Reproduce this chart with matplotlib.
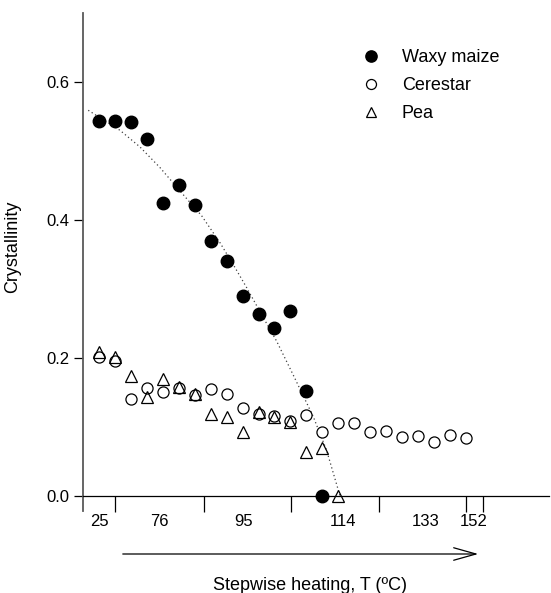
import numpy as np
import matplotlib
matplotlib.use('Agg')
from matplotlib import pyplot as plt

plt.rcParams['font.family'] = ['Liberation Sans', 'DejaVu Sans']

# heating step index of every measurement
steps_waxy = list(range(15))
steps_cerestar = list(range(24))
steps_pea = list(range(16))

waxy = [0.544, 0.544, 0.542, 0.518, 0.425, 0.450, 0.422, 0.369, 0.340,
        0.290, 0.264, 0.244, 0.268, 0.152, 0.0]
cerestar = [0.201, 0.195, 0.140, 0.157, 0.151, 0.157, 0.146, 0.155, 0.147,
            0.128, 0.118, 0.116, 0.109, 0.117, 0.092, 0.105, 0.106, 0.093,
            0.094, 0.086, 0.087, 0.078, 0.088, 0.084]
pea = [0.209, 0.202, 0.174, 0.143, 0.170, 0.158, 0.147, 0.118, 0.115,
       0.092, 0.121, 0.114, 0.107, 0.063, 0.070, 0.0]

# dotted trend through the waxy maize data
fit_x = [-0.69, 1.30, 2.55, 3.81, 5.07, 6.43, 7.58, 8.52, 9.25, 10.09,
         11.14, 12.18, 13.43, 14.27, 15.11]
fit_y = [0.559, 0.530, 0.506, 0.476, 0.442, 0.406, 0.367, 0.331, 0.302,
         0.267, 0.224, 0.175, 0.115, 0.066, 0.0]

temp_labels = ['25', '76', '95', '114', '133', '152']
temp_label_pos = [0, 3.77, 9.05, 15.3, 20.5, 23.5]
step_ticks = [1, 6.57, 12.03, 17.56, 23.02, 24.1]

fig = plt.figure(figsize=(5.51, 5.93), dpi=100)
ax = fig.add_axes([0.1506, 0.1383, 0.8458, 0.8397])

ax.plot(fit_x, fit_y, linestyle=(0, (1, 2.2)), color='0.25', lw=0.9)
ax.plot(steps_waxy, waxy, 'o', color='black', ms=9.0, ls='none',
        label='Waxy maize', clip_on=False, zorder=3)
ax.plot(steps_cerestar, cerestar, 'o', mfc='white', mec='black', mew=0.9,
        ms=8.0, ls='none', label='Cerestar', clip_on=False, zorder=3)
ax.plot(steps_pea, pea, '^', mfc='none', mec='black', mew=0.9,
        ms=8.5, ls='none', label='Pea', clip_on=False, zorder=4)

ax.set_xlim(-1.02, 28.23)
ax.set_ylim(-0.022, 0.70)

for s in ['top', 'right']:
    ax.spines[s].set_visible(False)
ax.spines['bottom'].set_position(('data', 0))
ax.spines['left'].set_color('0.35')
ax.spines['left'].set_linewidth(1.3)
ax.spines['bottom'].set_linewidth(0.9)

ax.set_yticks([0.0, 0.2, 0.4, 0.6])
ax.set_yticklabels(['0.0', '0.2', '0.4', '0.6'])
ax.tick_params(axis='y', length=6.5, width=0.9, labelsize=12, pad=3)

ax.set_xticks(step_ticks)
ax.set_xticklabels([''] * len(step_ticks))
ax.set_xticks(temp_label_pos, minor=True)
ax.set_xticklabels(temp_labels, minor=True)
ax.tick_params(axis='x', which='major', length=11.5, width=0.9)
ax.tick_params(axis='x', which='minor', length=0, labelsize=12, pad=13)
ax.xaxis.get_major_ticks()[-1].tick1line.set_color('0.6')

ax.set_ylabel('Crystallinity', fontsize=13)
ax.yaxis.set_label_coords(-0.133, 0.53)

fig.text(310 / 551, 1 - 585 / 593, 'Stepwise heating, T (ºC)',
         ha='center', va='center', fontsize=13)
fig.patches.append(matplotlib.patches.FancyArrowPatch(
    (120 / 551, 1 - 554 / 593), (481 / 551, 1 - 554 / 593),
    transform=fig.transFigure, arrowstyle='->,head_length=16,head_width=4.5',
    mutation_scale=1, lw=0.9, color='black'))

leg = ax.legend(loc='upper left', bbox_to_anchor=(362 / 551, 1 - 49 / 593),
                bbox_transform=fig.transFigure, frameon=False, fontsize=13,
                handlelength=1.0, handletextpad=1.2, labelspacing=0.62,
                borderpad=0, borderaxespad=0, markerscale=0.9)

plt.savefig('out.png', dpi=100)
